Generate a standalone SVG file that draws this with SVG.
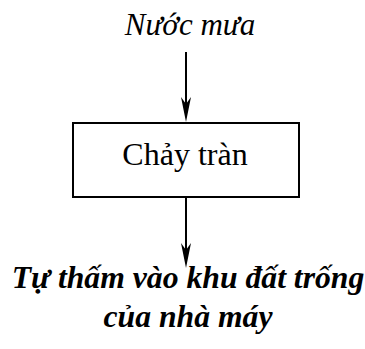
<svg xmlns="http://www.w3.org/2000/svg" width="365" height="349" viewBox="0 0 365 349">
  <style>
    .t { font-family: "Liberation Serif", "Times New Roman", serif; fill: #000; text-anchor: middle; }
    .box { fill: #fff; stroke: #000; stroke-width: 2; }
    .edge { stroke: #000; stroke-width: 2; fill: none; }
  </style>
  <defs>
    <!-- long, narrow barbed arrowhead; tip sits 10px beyond the line end -->
    <marker id="arrow" viewBox="0 -5 25 10" refX="15" refY="0" markerWidth="25" markerHeight="10" markerUnits="userSpaceOnUse" orient="auto">
      <path d="M0,-5 L25,0 L0,5 L7,0 Z" fill="#000"/>
    </marker>
  </defs>
  <rect width="365" height="349" fill="#fff"/>
  <g id="input">
    <text class="t" x="190" y="35" font-size="31" font-style="italic">Nước mưa</text>
  </g>
  <g id="overflow">
    <rect class="box" x="73" y="123" width="226" height="74"/>
    <text class="t" x="185" y="165" font-size="32">Chảy tràn</text>
  </g>
  <g id="output">
    <text class="t" x="188" y="288" font-size="31.7" font-style="italic" font-weight="bold">Tự thấm vào khu đất trống</text>
    <text class="t" x="188" y="327" font-size="31.7" font-style="italic" font-weight="bold">của nhà máy</text>
  </g>
  <g id="connectors">
    <path class="edge" d="M186,52 V112" marker-end="url(#arrow)"/>
    <path class="edge" d="M186,197 V258" marker-end="url(#arrow)"/>
  </g>
</svg>
